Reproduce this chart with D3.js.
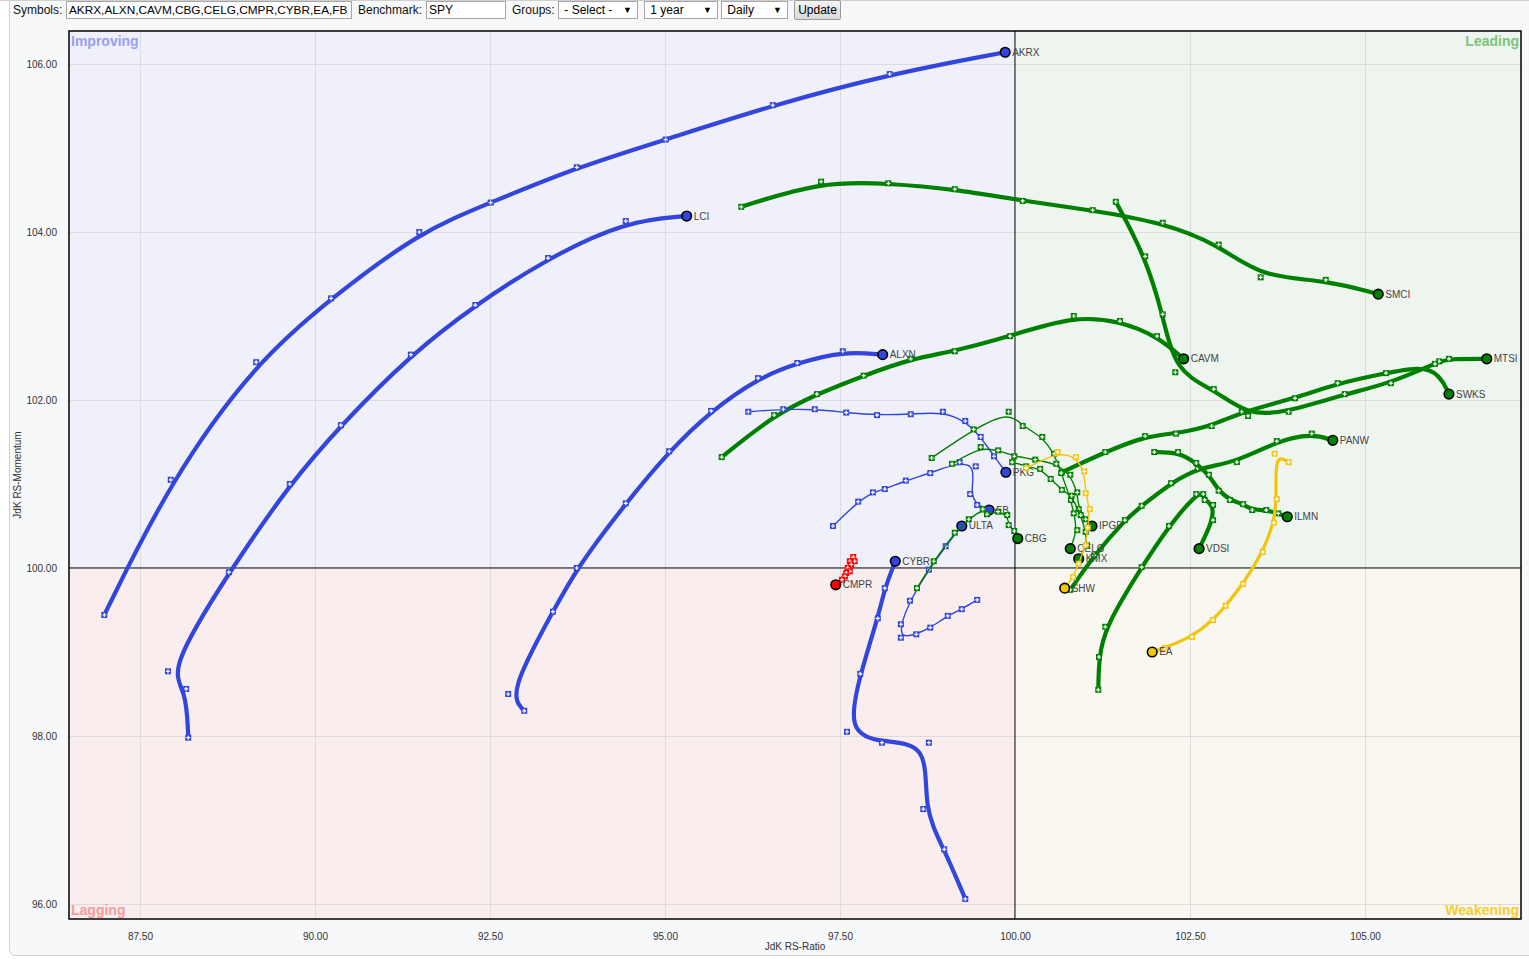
<!DOCTYPE html>
<html>
<head>
<meta charset="utf-8">
<script src="https://cdn.jsdelivr.net/npm/d3@7"></script>
<style>
  html, body { margin:0; padding:0; background:#fff; width:1529px; height:959px; overflow:hidden; }
  body { font-family: "Liberation Sans", Arial, sans-serif; position:relative; }
  #frame { position:absolute; left:9px; top:-6px; width:1535px; height:962px; background:#f7f8fa;
           border:1px solid #cfd0d3; border-radius:6px; box-sizing:border-box; }
  #topline { position:absolute; left:0; top:0; width:1529px; height:1px; background:#cfcfcf; }
  .lbl { position:absolute; top:0; height:20px; line-height:20px; font-size:12px; color:#111; white-space:nowrap; }
  .box { position:absolute; top:1px; height:18px; line-height:16px; box-sizing:border-box; border:1px solid #a6a6a6;
         background:#fff; font-size:12px; color:#000; padding-left:2px; white-space:nowrap; overflow:hidden; }
  .arrow { position:absolute; right:5px; top:0; font-size:9px; }
  #btn { position:absolute; left:794px; top:0; width:47px; height:20px; box-sizing:border-box; border:1px solid #9a9a9a;
         border-radius:2px; background:linear-gradient(#f4f4f4,#dadada); font-size:12px; line-height:18px; text-align:center; color:#000; }
  svg { position:absolute; left:0; top:0; }
</style>
</head>
<body>
<div id="frame"></div>
<div id="topline"></div>
<div class="lbl" style="left:13px">Symbols:</div>
<div class="box" style="left:66px;width:286px;font-size:11.8px">AKRX,ALXN,CAVM,CBG,CELG,CMPR,CYBR,EA,FB</div>
<div class="lbl" style="left:358px">Benchmark:</div>
<div class="box" style="left:426px;width:80px">SPY</div>
<div class="lbl" style="left:512px">Groups:</div>
<div class="box" style="left:558px;width:80px">&nbsp;- Select -<span class="arrow">&#9660;</span></div>
<div class="box" style="left:644px;width:74px">&nbsp;1 year<span class="arrow">&#9660;</span></div>
<div class="box" style="left:721px;width:67px">&nbsp;Daily<span class="arrow">&#9660;</span></div>
<div id="btn">Update</div>
<svg id="chart" width="1529" height="959"></svg>
<script>
// ---------------- data ----------------
const xTicks = [87.5, 90, 92.5, 95, 97.5, 100, 102.5, 105];
const yTicks = [96, 98, 100, 102, 104, 106];
const xDomain = [86.486, 107.229];
const yDomain = [95.821, 106.393];

// trails: [JdK RS-Ratio, JdK RS-Momentum], oldest first, last = head
const trailAKRX = [[86.99,99.44],[87.94,101.05],[89.16,102.45],[90.23,103.21],[91.49,104.00],[92.51,104.35],[93.74,104.77],[95.01,105.10],[96.54,105.51],[98.21,105.88],[99.86,106.14]];
const trailLCI  = [[88.19,97.98],[88.16,98.56],[87.90,98.77],[88.77,99.95],[89.64,101.00],[90.37,101.70],[91.37,102.54],[92.29,103.13],[93.33,103.69],[94.44,104.13],[95.31,104.19]];
const trailALXN = [[92.99,98.30],[92.76,98.50],[93.40,99.48],[93.74,100.00],[94.44,100.77],[95.06,101.39],[95.66,101.87],[96.33,102.26],[96.89,102.44],[97.54,102.58],[98.11,102.54]];
const trailCYBR = [[99.29,96.06],[98.99,96.65],[98.69,97.13],[98.77,97.92],[98.10,97.92],[97.60,98.05],[97.79,98.74],[98.04,99.40],[98.14,99.76],[98.29,100.08]];
const trailCMPR = [[97.69,100.13],[97.71,100.08],[97.64,100.08],[97.66,100.04],[97.61,100.00],[97.64,99.96],[97.59,99.94],[97.57,99.90],[97.53,99.86],[97.44,99.80]];
const trailSMCI = [[96.09,104.30],[97.23,104.60],[98.19,104.58],[99.14,104.51],[100.11,104.37],[101.11,104.26],[102.11,104.11],[102.91,103.85],[103.51,103.46],[104.44,103.43],[105.19,103.26]];
const trailCAVM = [[95.81,101.32],[96.56,101.82],[97.17,102.07],[97.84,102.29],[98.51,102.49],[99.14,102.58],[99.93,102.76],[100.84,103.00],[101.50,102.94],[102.03,102.76],[102.41,102.49]];
const trailMTSI = [[101.44,104.36],[101.86,103.71],[102.11,103.02],[102.29,102.33],[102.84,102.13],[103.33,101.81],[103.91,101.86],[104.71,102.07],[105.37,102.20],[106.06,102.46],[106.20,102.49],[106.74,102.49]];
const trailSWKS = [[100.67,101.14],[101.29,101.38],[101.86,101.57],[102.30,101.60],[102.81,101.69],[103.24,101.86],[104.00,102.02],[104.61,102.20],[105.30,102.32],[106.00,102.43],[106.20,102.07]];
const trailPANW = [[100.79,99.74],[101.13,100.15],[101.57,100.57],[101.81,100.74],[102.23,101.01],[102.61,101.19],[103.17,101.26],[103.74,101.51],[104.24,101.60],[104.54,101.52]];
const trailILMN = [[101.99,101.38],[102.33,101.38],[102.59,101.25],[102.77,101.11],[102.91,100.92],[103.07,100.81],[103.26,100.76],[103.39,100.69],[103.59,100.69],[103.76,100.65],[103.89,100.61]];
const trailVDSI = [[101.19,98.55],[101.20,98.94],[101.29,99.30],[101.81,100.01],[102.20,100.50],[102.59,100.88],[102.69,100.88],[102.71,100.81],[102.83,100.75],[102.83,100.57],[102.63,100.23]];
const trailEA   = [[103.91,101.26],[103.71,101.36],[103.74,100.82],[103.70,100.54],[103.54,100.19],[103.26,99.81],[103.01,99.55],[102.83,99.38],[102.53,99.18],[102.14,99.05],[101.96,99.00]];
const trailPKG  = [[96.19,101.86],[96.69,101.89],[97.14,101.89],[97.59,101.85],[98.03,101.82],[98.51,101.83],[98.97,101.86],[99.29,101.75],[99.51,101.56],[99.70,101.33],[99.87,101.14]];
const trailFB   = [[97.40,100.50],[97.76,100.79],[97.97,100.90],[98.14,100.94],[98.44,101.04],[98.79,101.13],[99.21,101.26],[99.44,101.21],[99.36,100.88],[99.46,100.75],[99.63,100.69]];
const trailULTA = [[99.46,99.62],[99.24,99.51],[99.04,99.43],[98.79,99.29],[98.59,99.21],[98.37,99.17],[98.37,99.33],[98.50,99.61],[98.77,99.98],[99.01,100.26],[99.24,100.50]];
const trailCBG  = [[98.60,99.76],[98.84,100.08],[99.14,100.42],[99.34,100.58],[99.54,100.70],[99.60,100.64],[99.76,100.67],[99.89,100.63],[99.91,100.51],[99.99,100.44],[100.04,100.35]];
const trailCELG = [[98.81,101.31],[99.41,101.65],[99.91,101.86],[100.11,101.69],[100.39,101.56],[100.56,101.36],[100.66,101.13],[100.80,100.81],[100.84,100.65],[100.89,100.45],[100.79,100.23]];
const trailIPGP = [[99.10,101.24],[99.51,101.44],[99.76,101.40],[99.99,101.33],[100.29,101.29],[100.59,101.24],[100.79,101.11],[100.89,100.90],[100.91,100.70],[101.01,100.58],[101.10,100.50]];
const trailKMX  = [[99.96,101.26],[100.16,101.21],[100.36,101.18],[100.51,101.06],[100.67,100.93],[100.81,100.86],[100.94,100.63],[101.01,100.43],[101.03,100.27],[100.91,100.11]];
const trailSHW  = [[100.16,101.19],[100.61,101.38],[100.87,101.32],[100.99,101.15],[101.01,100.89],[101.07,100.70],[101.04,100.48],[101.01,100.27],[100.91,100.05],[100.83,99.89],[100.71,99.76]];

const symbols = ["AKRX","LCI","ALXN","CYBR","CMPR","SMCI","CAVM","MTSI","SWKS","PANW","ILMN","VDSI","EA",
                 "PKG","FB","ULTA","CBG","CELG","IPGP","KMX","SHW"];
const trails = {AKRX:trailAKRX, LCI:trailLCI, ALXN:trailALXN, CYBR:trailCYBR, CMPR:trailCMPR, SMCI:trailSMCI,
  CAVM:trailCAVM, MTSI:trailMTSI, SWKS:trailSWKS, PANW:trailPANW, ILMN:trailILMN, VDSI:trailVDSI, EA:trailEA,
  PKG:trailPKG, FB:trailFB, ULTA:trailULTA, CBG:trailCBG, CELG:trailCELG, IPGP:trailIPGP, KMX:trailKMX, SHW:trailSHW};

// ---------------- style ----------------
const thinSymbols = new Set(["PKG","FB","ULTA","CBG","CELG","IPGP","KMX","SHW"]);
const quadColor = { leading:"#008000", improving:"#3346dc", lagging:"#ff0000", weakening:"#f2c40c" };
function quadrantOf(p){ return p[0] >= 100 ? (p[1] >= 100 ? "leading" : "weakening") : (p[1] >= 100 ? "improving" : "lagging"); }

const L = 69, R = 1521, T = 31, B = 919;
const svg = d3.select("#chart");
const x = d3.scaleLinear().domain(xDomain).range([L, R]);
const y = d3.scaleLinear().domain(yDomain).range([B, T]);
const font = '"Liberation Sans", Arial, sans-serif';

// quadrant backgrounds
const quads = [
  {x0:xDomain[0], x1:100, y0:100, y1:yDomain[1], fill:"#eff0f9"},
  {x0:100, x1:xDomain[1], y0:100, y1:yDomain[1], fill:"#eef5ee"},
  {x0:xDomain[0], x1:100, y0:yDomain[0], y1:100, fill:"#f9eded"},
  {x0:100, x1:xDomain[1], y0:yDomain[0], y1:100, fill:"#f9f7ef"}
];
svg.append("g").selectAll("rect").data(quads).join("rect")
  .attr("x", d => x(d.x0)).attr("y", d => y(d.y1))
  .attr("width", d => x(d.x1) - x(d.x0)).attr("height", d => y(d.y0) - y(d.y1))
  .attr("fill", d => d.fill);

// grid
const gx = svg.append("g").attr("transform", `translate(0,${B})`)
  .call(d3.axisBottom(x).tickValues(xTicks.filter(v => v !== 100)).tickSize(-(B - T)).tickFormat(""));
gx.select(".domain").remove();
gx.selectAll("line").attr("stroke", "#dcdcdc");
const gy = svg.append("g").attr("transform", `translate(${L},0)`)
  .call(d3.axisLeft(y).tickValues(yTicks.filter(v => v !== 100)).tickSize(-(R - L)).tickFormat(""));
gy.select(".domain").remove();
gy.selectAll("line").attr("stroke", "#dcdcdc");

// center lines
svg.append("line").attr("x1", x(100)).attr("x2", x(100)).attr("y1", T).attr("y2", B).attr("stroke", "#000").attr("stroke-width", 1);
svg.append("line").attr("x1", L).attr("x2", R).attr("y1", y(100)).attr("y2", y(100)).attr("stroke", "#000").attr("stroke-width", 1);

// quadrant labels
const qlab = [
  {t:"Improving", x:L + 2, y:T + 14.5, a:"start", c:"#99a1ee"},
  {t:"Leading", x:R - 2, y:T + 14.5, a:"end", c:"#7cc37c"},
  {t:"Lagging", x:L + 2, y:B - 4, a:"start", c:"#f79b9b"},
  {t:"Weakening", x:R - 2, y:B - 4, a:"end", c:"#f6cc34"}
];
svg.append("g").selectAll("text").data(qlab).join("text")
  .attr("x", d => d.x).attr("y", d => d.y).attr("text-anchor", d => d.a)
  .attr("fill", d => d.c).attr("font-family", font).attr("font-size", 14).attr("font-weight", "bold")
  .text(d => d.t);

// axes labels
const ax = svg.append("g").attr("transform", `translate(0,${B})`)
  .call(d3.axisBottom(x).tickValues(xTicks).tickSize(0).tickPadding(14).tickFormat(d3.format(".2f")));
ax.select(".domain").remove();
ax.selectAll("text").attr("font-family", font).attr("font-size", 10).attr("fill", "#333");
const ay = svg.append("g").attr("transform", `translate(${L},0)`)
  .call(d3.axisLeft(y).tickValues(yTicks).tickSize(0).tickPadding(12).tickFormat(d3.format(".2f")));
ay.select(".domain").remove();
ay.selectAll("text").attr("font-family", font).attr("font-size", 10).attr("fill", "#333");

svg.append("text").attr("x", (L + R) / 2).attr("y", 950).attr("text-anchor", "middle")
  .attr("font-family", font).attr("font-size", 10).attr("fill", "#333").text("JdK RS-Ratio");
svg.append("text").attr("transform", `translate(21,${(T + B) / 2}) rotate(-90)`).attr("text-anchor", "middle")
  .attr("font-family", font).attr("font-size", 10).attr("fill", "#333").text("JdK RS-Momentum");

// border
svg.append("rect").attr("x", L).attr("y", T).attr("width", R - L).attr("height", B - T)
  .attr("fill", "none").attr("stroke", "#000").attr("stroke-width", 1.5);

// series
const line = d3.line().x(d => x(d[0])).y(d => y(d[1])).curve(d3.curveBasis);
const plot = svg.append("g");
symbols.forEach(sym => {
  const pts = trails[sym];
  const head = pts[pts.length - 1];
  const col = quadColor[quadrantOf(head)];
  const thin = thinSymbols.has(sym);
  const g = plot.append("g");
  g.append("path").attr("d", line(pts)).attr("fill", "none").attr("stroke", col)
    .attr("stroke-width", thin ? 1.4 : (sym === "EA" ? 3.2 : 4.2)).attr("stroke-linejoin", "round").attr("stroke-linecap", "round");
  const m = g.selectAll("g.m").data(pts.slice(0, -1)).join("g").attr("class", "m")
    .attr("transform", d => `translate(${x(d[0])},${y(d[1])})`);
  m.append("rect").attr("x", -3).attr("y", -3).attr("width", 6).attr("height", 6).attr("fill", col);
  m.append("path").attr("d", "M-2,0H2M0,-2V2").attr("stroke", "#fff").attr("stroke-width", 1.2);
  g.append("circle").attr("cx", x(head[0])).attr("cy", y(head[1])).attr("r", 4.8)
    .attr("fill", col).attr("stroke", "#000").attr("stroke-width", 1.6);
  g.append("text").attr("x", x(head[0]) + 7).attr("y", y(head[1])).attr("dy", "0.35em")
    .attr("font-family", font).attr("font-size", 10).attr("fill", "#444").text(sym);
});
</script>
</body>
</html>
